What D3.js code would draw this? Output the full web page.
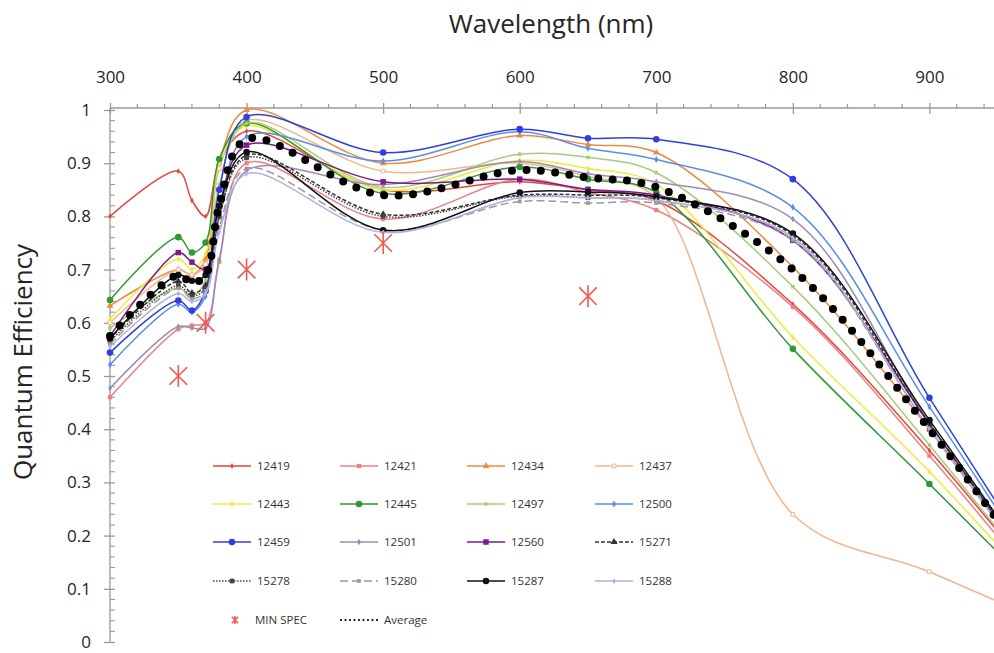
<!DOCTYPE html>
<html>
<head>
<meta charset="utf-8">
<script src="https://cdn.jsdelivr.net/npm/d3@7/dist/d3.min.js"></script>
<style>
  body { margin: 0; background: #fff; }
  svg { display: block; font-family: "Open Sans", "DejaVu Sans", sans-serif; }
</style>
</head>
<body>
<svg id="chart" width="994" height="653"></svg>
<script>
// wavelengths (nm) where every curve was measured
const wavelengths = [300, 350, 360, 370, 380, 400, 500, 600, 650, 700, 800, 900, 1000];

// quantum efficiency per sensor
const qe12419 = [0.80, 0.885, 0.83, 0.80, 0.90, 0.96, 0.85, 0.865, 0.85, 0.83, 0.635, 0.36, 0.05];
const qe12421 = [0.46, 0.588, 0.595, 0.60, 0.715, 0.90, 0.795, 0.87, 0.845, 0.812, 0.63, 0.35, 0.04];
const qe12434 = [0.632, 0.70, 0.69, 0.72, 0.90, 1.0, 0.90, 0.952, 0.935, 0.92, 0.705, 0.40, 0.05];
const qe12437 = [0.60, 0.70, 0.69, 0.71, 0.89, 0.98, 0.885, 0.90, 0.875, 0.835, 0.24, 0.132, 0.02];
const qe12443 = [0.607, 0.72, 0.70, 0.73, 0.90, 0.97, 0.85, 0.905, 0.89, 0.86, 0.573, 0.32, 0.04];
const qe12445 = [0.643, 0.761, 0.732, 0.751, 0.908, 0.975, 0.843, 0.893, 0.87, 0.845, 0.551, 0.297, 0.04];
const qe12497 = [0.59, 0.665, 0.65, 0.68, 0.86, 0.975, 0.855, 0.917, 0.911, 0.882, 0.668, 0.37, 0.05];
const qe12500 = [0.521, 0.635, 0.62, 0.65, 0.80, 0.95, 0.904, 0.959, 0.928, 0.907, 0.817, 0.442, 0.05];
const qe12459 = [0.544, 0.642, 0.623, 0.66, 0.85, 0.987, 0.92, 0.964, 0.947, 0.945, 0.87, 0.459, 0.06];
const qe12501 = [0.477, 0.593, 0.59, 0.59, 0.72, 0.886, 0.86, 0.903, 0.88, 0.865, 0.795, 0.41, 0.05];
const qe12560 = [0.575, 0.732, 0.714, 0.70, 0.82, 0.934, 0.865, 0.87, 0.851, 0.84, 0.755, 0.41, 0.05];
const qe15271 = [0.57, 0.678, 0.656, 0.67, 0.80, 0.915, 0.804, 0.84, 0.84, 0.835, 0.765, 0.41, 0.05];
const qe15278 = [0.565, 0.67, 0.65, 0.665, 0.80, 0.91, 0.80, 0.838, 0.835, 0.83, 0.76, 0.40, 0.05];
const qe15280 = [0.56, 0.665, 0.645, 0.66, 0.78, 0.89, 0.775, 0.828, 0.825, 0.825, 0.755, 0.40, 0.05];
const qe15287 = [0.571, 0.69, 0.679, 0.69, 0.82, 0.921, 0.774, 0.845, 0.846, 0.837, 0.768, 0.417, 0.05];
const qe15288 = [0.555, 0.655, 0.64, 0.655, 0.77, 0.88, 0.77, 0.835, 0.835, 0.83, 0.76, 0.40, 0.05];
const qeAverage = [0.575, 0.69, 0.675, 0.69, 0.82, 0.945, 0.84, 0.887, 0.873, 0.855, 0.70, 0.40, 0.05];

// minimum spec points
const minSpecWl = [350, 370, 400, 500, 650];
const minSpecQe = [0.50, 0.60, 0.70, 0.75, 0.65];

// axis ticks
const xTicks = [300, 400, 500, 600, 700, 800, 900];
const yTicks = [0, 0.1, 0.2, 0.3, 0.4, 0.5, 0.6, 0.7, 0.8, 0.9, 1];

// names in legend order (row by row)
const seriesNames = ["12419", "12421", "12434", "12437", "12443", "12445", "12497", "12500",
                     "12459", "12501", "12560", "15271", "15278", "15280", "15287", "15288"];
const seriesValues = [qe12419, qe12421, qe12434, qe12437, qe12443, qe12445, qe12497, qe12500,
                      qe12459, qe12501, qe12560, qe15271, qe15278, qe15280, qe15287, qe15288];

// how each sensor is drawn
const styles = {
  "12419": { color: "#e8453f", marker: "diamond", size: 10 },
  "12421": { color: "#ef8080", marker: "square", size: 18 },
  "12434": { color: "#ef8a3e", marker: "triangle", size: 20 },
  "12437": { color: "#f4b48c", marker: "opensquare", size: 14 },
  "12443": { color: "#ecec3c", marker: "diamond", size: 12 },
  "12445": { color: "#2d9a35", marker: "circle", size: 34 },
  "12497": { color: "#a9cc7c", marker: "square", size: 12 },
  "12500": { color: "#5a8ee8", marker: "diamond", size: 14 },
  "12459": { color: "#2f3fe0", marker: "circle", size: 34 },
  "12501": { color: "#9a8cb8", marker: "diamond", size: 12 },
  "12560": { color: "#7d1a8c", marker: "square", size: 30 },
  "15271": { color: "#333333", marker: "triangle", size: 22, dash: "4,2" },
  "15278": { color: "#444444", marker: "square", size: 22, dash: "1.5,1.5" },
  "15280": { color: "#9a9a9a", marker: "square", size: 14, dash: "8,4" },
  "15287": { color: "#111111", marker: "circle", size: 34 },
  "15288": { color: "#b3b0e0", marker: "diamond", size: 10 }
};

const svg = d3.select("#chart");

const x = d3.scaleLinear().domain([300, 1000]).range([110, 1066]);
const y = d3.scaleLinear().domain([0, 1]).range([642, 110]);
const axisColor = "#9a9a9a";
const textColor = "#262626";

// ---------- axes ----------
const gTop = svg.append("g").attr("transform", "translate(0,108)");
gTop.append("line").attr("x1", x(300)).attr("x2", 994).attr("stroke", axisColor).attr("stroke-width", 1.3);
// minor ticks every 20 nm, outward
gTop.selectAll(".minor").data(d3.range(320, 1000, 20).filter(d => d % 100 !== 0))
  .enter().append("line")
  .attr("x1", d => x(d)).attr("x2", d => x(d))
  .attr("y1", -4).attr("y2", 0)
  .attr("stroke", axisColor).attr("stroke-width", 1.2);
const xAxis = d3.axisTop(x).tickValues(xTicks).tickSizeOuter(0).tickSize(5);
gTop.append("g").call(xAxis).call(g => {
  g.select(".domain").remove();
  g.selectAll(".tick line").attr("y1", 6).attr("y2", -5).attr("stroke", axisColor).attr("stroke-width", 1.3);
  g.selectAll(".tick text").attr("y", -25).attr("dy", 0)
    .attr("font-size", 17).attr("fill", textColor).attr("font-family", "'Open Sans', sans-serif");
});

const gLeft = svg.append("g").attr("transform", "translate(110,0)");
gLeft.append("line").attr("y1", 108).attr("y2", y(0)).attr("stroke", axisColor).attr("stroke-width", 1.3);
gLeft.selectAll(".minor").data(d3.range(1, 50).map(i => i * 0.02).filter(d => Math.round(d * 50) % 5 !== 0))
  .enter().append("line")
  .attr("y1", d => y(d)).attr("y2", d => y(d))
  .attr("x1", 0).attr("x2", 5)
  .attr("stroke", axisColor).attr("stroke-width", 1.1);
const yAxis = d3.axisLeft(y).tickValues(yTicks).tickSizeOuter(0).tickSize(6)
  .tickFormat(d => String(+d.toFixed(1)));
gLeft.append("g").call(yAxis).call(g => {
  g.select(".domain").remove();
  g.selectAll(".tick line").attr("x1", 5).attr("x2", -6).attr("stroke", axisColor).attr("stroke-width", 1.3);
  g.selectAll(".tick text").attr("x", -19)
    .attr("font-size", 17).attr("fill", textColor).attr("font-family", "'Open Sans', sans-serif");
});

svg.append("text")
  .attr("x", 551).attr("y", 33)
  .attr("text-anchor", "middle")
  .attr("font-size", 26).attr("fill", textColor)
  .text("Wavelength (nm)");

svg.append("text")
  .attr("transform", "translate(32,362) rotate(-90)")
  .attr("text-anchor", "middle")
  .attr("font-size", 26).attr("fill", textColor)
  .text("Quantum Efficiency");

// ---------- curves ----------
const line = d3.line()
  .x(d => x(d.wl))
  .y(d => y(d.qe))
  .curve(d3.curveCatmullRom.alpha(0.5));

function markerPath(kind, size) {
  let t = d3.symbolCircle;
  if (kind === "square" || kind === "opensquare") t = d3.symbolSquare;
  if (kind === "triangle") t = d3.symbolTriangle;
  if (kind === "diamond") t = d3.symbolDiamond;
  return d3.symbol().type(t).size(size)();
}

const gCurves = svg.append("g");
seriesNames.forEach((name, i) => {
  const st = styles[name];
  const pts = wavelengths.map((wl, j) => ({ wl: wl, qe: seriesValues[i][j] }));
  gCurves.append("path")
    .attr("d", line(pts))
    .attr("fill", "none")
    .attr("stroke", st.color)
    .attr("stroke-width", 1.5)
    .attr("stroke-dasharray", st.dash || null);
  gCurves.append("g").selectAll("path")
    .data(pts.filter(p => p.wl < 1000))
    .enter().append("path")
    .attr("transform", p => `translate(${x(p.wl)},${y(p.qe)})`)
    .attr("d", markerPath(st.marker, st.size))
    .attr("fill", st.marker === "opensquare" ? "#fff" : st.color)
    .attr("stroke", st.marker === "opensquare" ? st.color : "none");
});

// average: big round dots
const avgPts = wavelengths.map((wl, j) => ({ wl: wl, qe: qeAverage[j] }));
gCurves.append("path")
  .attr("d", line(avgPts))
  .attr("fill", "none")
  .attr("stroke", "#000")
  .attr("stroke-width", 8)
  .attr("stroke-linecap", "round")
  .attr("stroke-dasharray", "0,14.5");

// min spec asterisks
function starMarker(g, cx, cy, r, w) {
  const s = r * 0.8;
  g.append("path")
    .attr("d", `M${cx - s},${cy - s}L${cx + s},${cy + s}M${cx - s},${cy + s}L${cx + s},${cy - s}M${cx},${cy - r}L${cx},${cy + r}`)
    .attr("stroke", "#ef5a52").attr("stroke-width", w).attr("fill", "none");
}
const gSpec = svg.append("g");
minSpecWl.forEach((wl, i) => starMarker(gSpec, x(wl), y(minSpecQe[i]), 11, 1.6));

// ---------- legend ----------
const legX = [213, 340, 467, 595];
const legY = [466, 504, 542, 581, 620];
const legLen = 38;
const gLeg = svg.append("g").attr("font-size", 11.5).attr("fill", "#333");

seriesNames.forEach((name, i) => {
  const st = styles[name];
  const lx = legX[i % 4], ly = legY[Math.floor(i / 4)];
  gLeg.append("line")
    .attr("x1", lx).attr("x2", lx + legLen).attr("y1", ly).attr("y2", ly)
    .attr("stroke", st.color).attr("stroke-width", 1.5)
    .attr("stroke-dasharray", st.dash || null);
  gLeg.append("path")
    .attr("transform", `translate(${lx + legLen / 2},${ly})`)
    .attr("d", markerPath(st.marker, st.size))
    .attr("fill", st.marker === "opensquare" ? "#fff" : st.color)
    .attr("stroke", st.marker === "opensquare" ? st.color : "none");
  gLeg.append("text")
    .attr("x", lx + legLen + 6).attr("y", ly)
    .attr("dy", "0.35em")
    .text(name);
});

// min spec + average entries
starMarker(gLeg, legX[0] + 22, legY[4], 4, 1.6);
gLeg.append("text").attr("x", legX[0] + 42).attr("y", legY[4]).attr("dy", "0.35em").text("MIN SPEC");
gLeg.append("line")
  .attr("x1", legX[1] + 1).attr("x2", legX[1] + legLen).attr("y1", legY[4]).attr("y2", legY[4])
  .attr("stroke", "#000").attr("stroke-width", 2.2)
  .attr("stroke-linecap", "round").attr("stroke-dasharray", "0,4.5");
gLeg.append("text").attr("x", legX[1] + legLen + 6).attr("y", legY[4]).attr("dy", "0.35em").text("Average");
</script>
</body>
</html>
